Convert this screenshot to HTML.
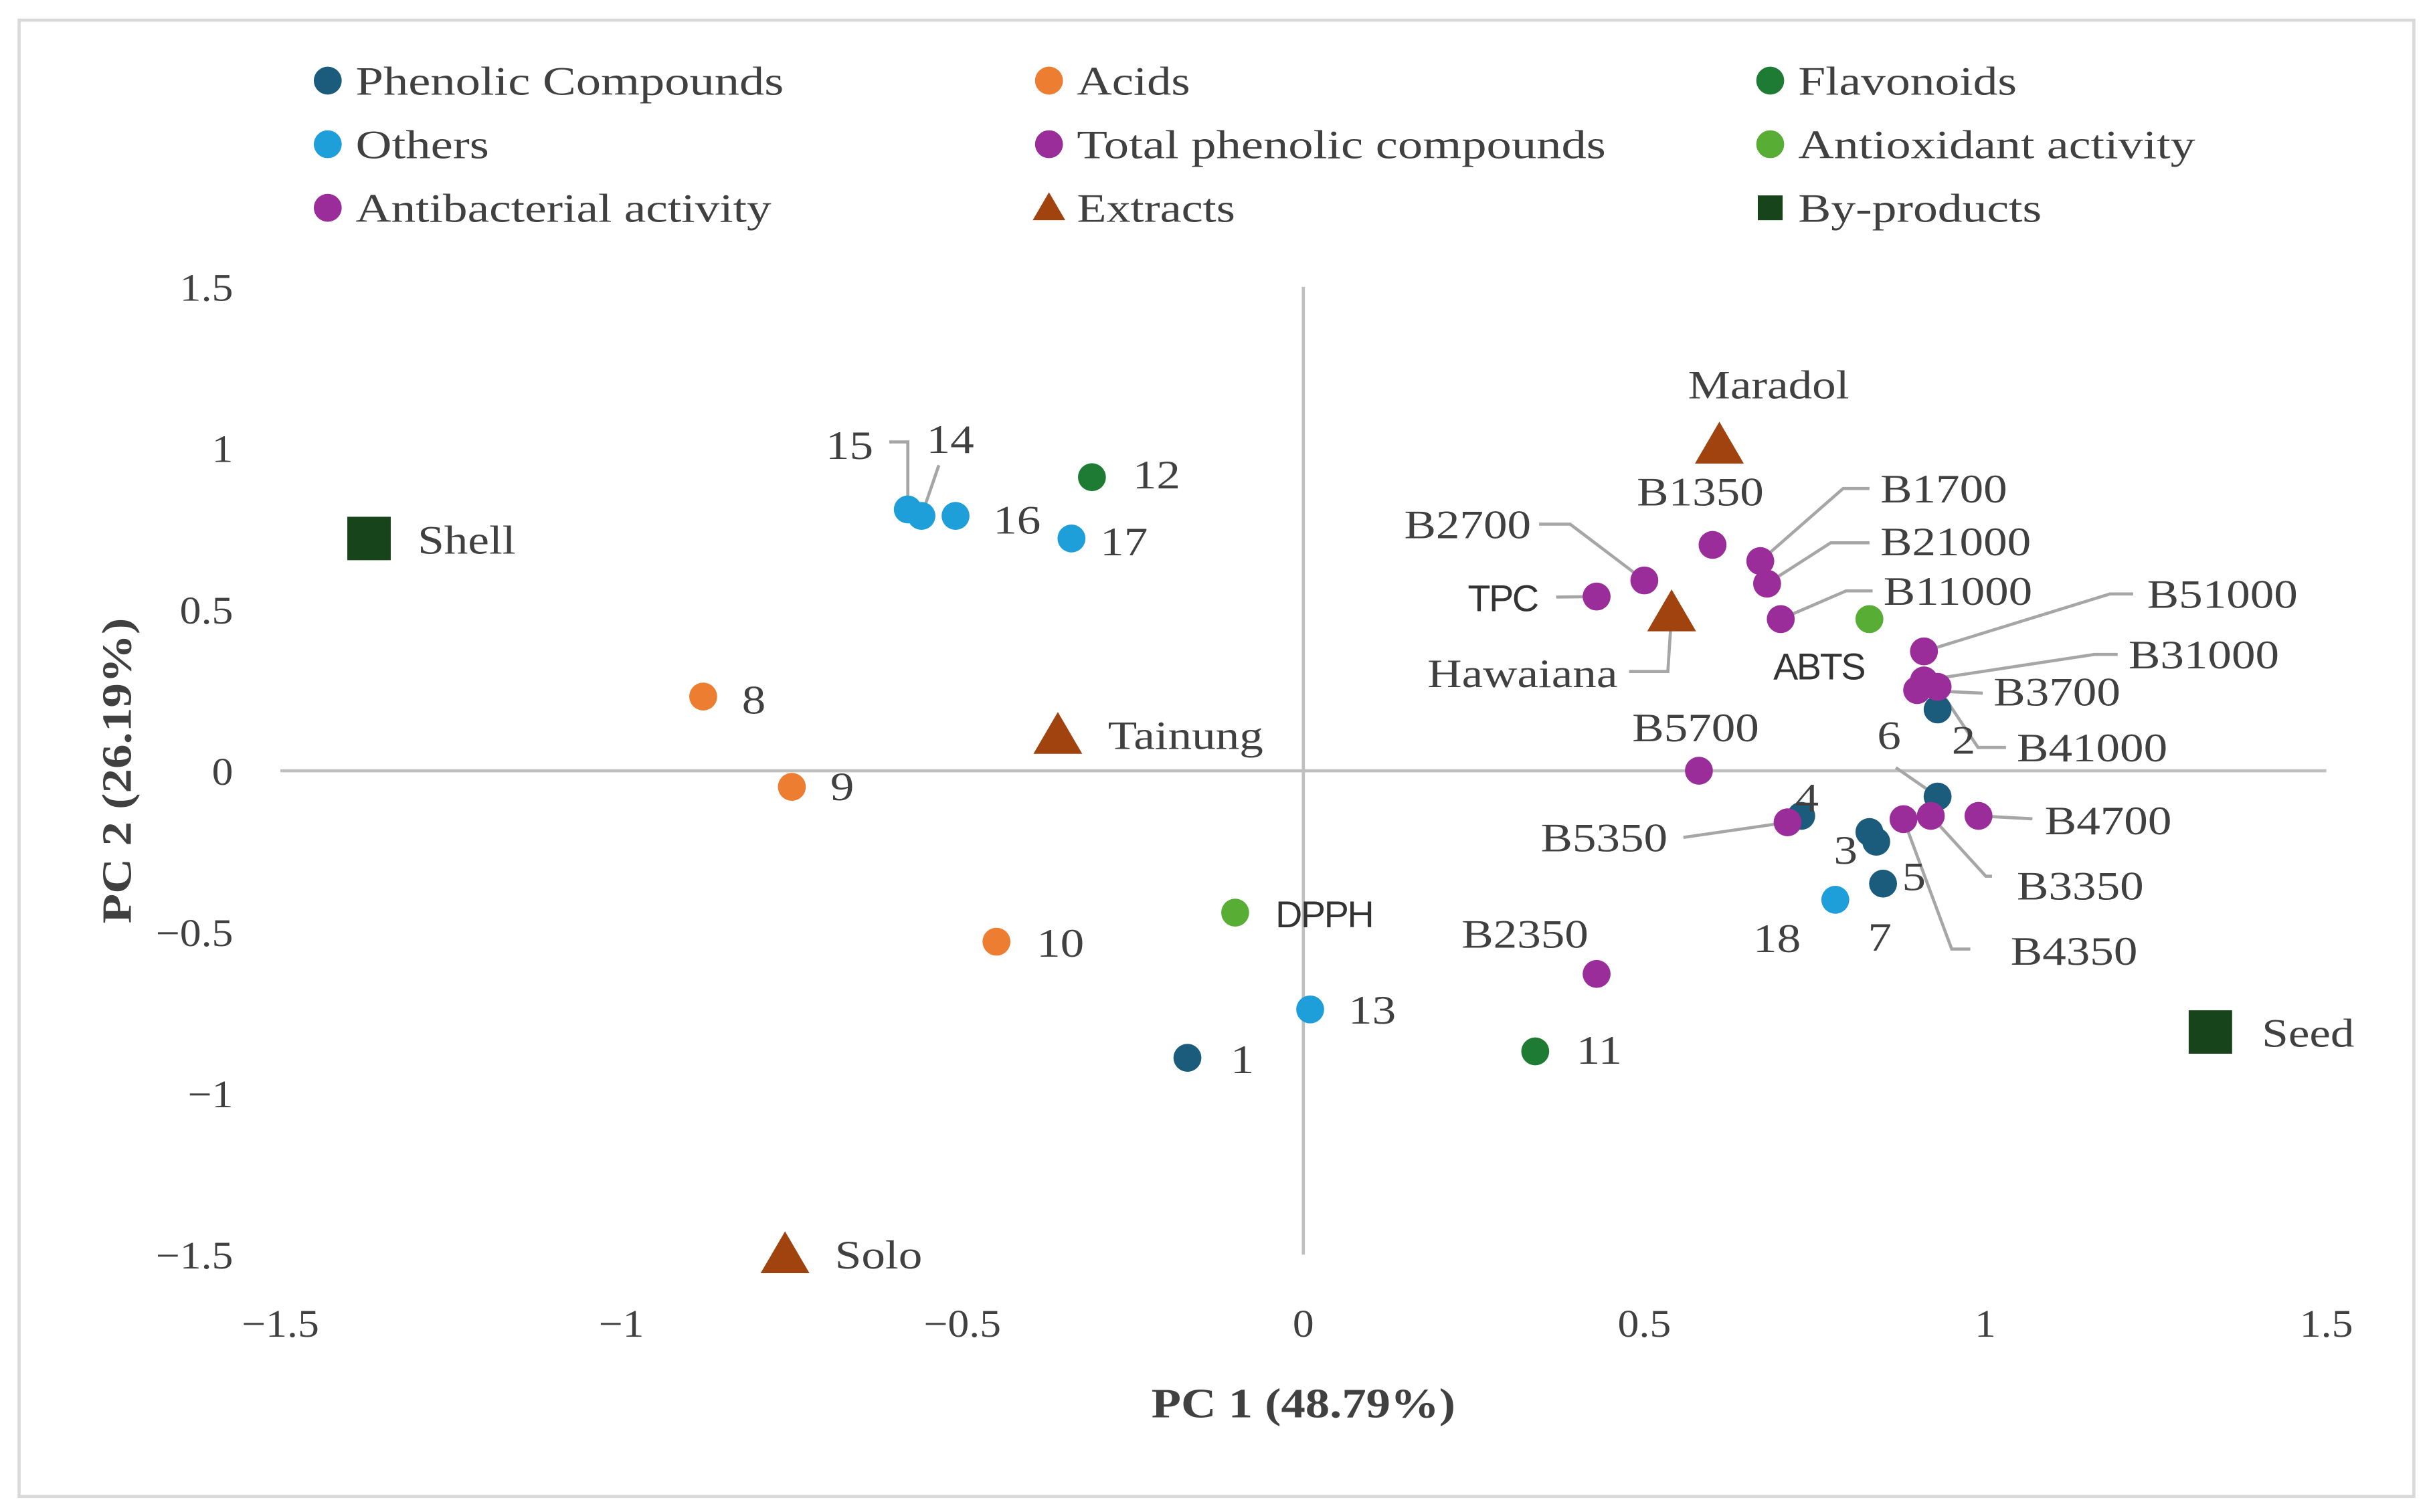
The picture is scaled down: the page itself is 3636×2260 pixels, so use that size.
<!DOCTYPE html>
<html><head><meta charset="utf-8"><style>
html,body{margin:0;padding:0;background:#fff;}
svg{display:block;}
.serif{font-family:"Liberation Serif",serif;fill:#404040;}
.sans{font-family:"Liberation Sans",sans-serif;fill:#333;}
</style></head><body>
<svg id="chart" width="3636" height="2260" viewBox="0 0 1568 975" xmlns="http://www.w3.org/2000/svg">
<rect x="12" y="13" width="1544" height="952" fill="#fff" stroke="#d9d9d9" stroke-width="2"/>
<g id="legend"></g>
<g id="axes"></g>
<g id="leaders"></g>
<g id="marks"></g>
<g id="labels"></g>
<text class="serif widen" x="840" y="914" text-anchor="middle" font-size="27" font-weight="bold" fill="#595959" textLength="196" lengthAdjust="spacingAndGlyphs">PC 1 (48.79%)</text>
<text class="serif" transform="translate(84,497) rotate(-90)" text-anchor="middle" font-size="27" font-weight="bold" fill="#595959" textLength="197" lengthAdjust="spacingAndGlyphs">PC 2 (26.19%)</text>
</svg>
<script>
const xTicks=[-1.5,-1,-0.5,0,0.5,1,1.5];
const yTicks=[-1.5,-1,-0.5,0,0.5,1,1.5];
const xTickLabels=["−1.5","−1","−0.5","0","0.5","1","1.5"];
const yTickLabels=["−1.5","−1","−0.5","0","0.5","1","1.5"];
const names=["1","2","3","4","5","6","7","8","9","10","11","12","13","14","15","16","17","18",
"Maradol","Hawaiana","Tainung","Solo","Shell","Seed","TPC","ABTS","DPPH",
"B1350","B2700","B1700","B21000","B11000","B51000","B31000","B3700","B41000","B5700","B5350","B4700","B3350","B4350","B2350"];
const groups=["ph","ph","ph","ph","ph","ph","ph","ac","ac","ac","fl","fl","ot","ot","ot","ot","ot","ot",
"ex","ex","ex","ex","bp","bp","tp","ao","ao",
"ab","ab","ab","ab","ab","ab","ab","ab","ab","ab","ab","ab","ab","ab","ab"];
const pc1=[-0.17,0.93,0.83,0.73,0.85,0.93,0.84,-0.88,-0.75,-0.45,0.34,-0.31,0.01,-0.56,-0.58,-0.51,-0.34,0.78,
0.61,0.54,-0.36,-0.76,-1.37,1.33,0.43,0.83,-0.10,
0.60,0.50,0.67,0.68,0.70,0.91,0.91,0.90,0.93,0.58,0.71,0.99,0.92,0.88,0.43];
const pc2=[-0.89,0.19,-0.19,-0.14,-0.35,-0.08,-0.22,0.23,-0.05,-0.53,-0.87,0.91,-0.74,0.79,0.81,0.79,0.72,-0.40,
1.01,0.49,0.11,-1.50,0.72,-0.81,0.54,0.47,-0.44,
0.70,0.59,0.65,0.58,0.47,0.37,0.28,0.25,0.26,0.00,-0.16,-0.14,-0.14,-0.15,-0.63];
const legendNames=["Phenolic Compounds","Acids","Flavonoids","Others","Total phenolic compounds","Antioxidant activity","Antibacterial activity","Extracts","By-products"];
const legendGroups=["ph","ac","fl","ot","tp","ao","ab","ex","bp"];
const colors={ph:"#1b5c7c",ac:"#ed7d31",fl:"#1e7b34",ot:"#1f9fd9",tp:"#9a2d9a",ao:"#58ad34",ab:"#9a2d9a",ex:"#a0430f",bp:"#17441a"};
const X=v=>840+v*439.7, Y=v=>497-v*208;
const NS="http://www.w3.org/2000/svg";
function mk(tag,parent,attrs){const e=document.createElementNS(NS,tag);for(const k in attrs)e.setAttribute(k,attrs[k]);parent.appendChild(e);return e;}
function widen(t,f){const len=t.getComputedTextLength();if(len>0){t.setAttribute('textLength',(len*f).toFixed(1));t.setAttribute('lengthAdjust','spacingAndGlyphs');}}
const axes=document.getElementById('axes');
let l=mk('line',axes,{x1:X(-1.5),x2:X(1.5),y1:Y(0),y2:Y(0),stroke:"#bfbfbf","stroke-width":2});


l=mk('line',axes,{x1:X(0),x2:X(0),y1:Y(1.5),y2:Y(-1.5),stroke:"#bfbfbf","stroke-width":2});


xTicks.forEach((t,i)=>{const e=mk('text',axes,{x:X(t),y:862,"text-anchor":"middle","font-size":25,class:"serif"});e.textContent=xTickLabels[i];


widen(e,1.1);});
yTicks.forEach((t,i)=>{const e=mk('text',axes,{x:150,y:Y(t)+9,"text-anchor":"end","font-size":25,class:"serif"});e.textContent=yTickLabels[i];


widen(e,1.1);});
function marker(g,parent,cx,cy,big){
  let e;
  if(g==="ex"){const s=big?15:10;e=mk('polygon',parent,{points:`${cx},${cy-s} ${cx+s*1.05},${cy+s*0.8} ${cx-s*1.05},${cy+s*0.8}`,fill:colors[g]});}
  else if(g==="bp"){const s=big?14:8;e=mk('rect',parent,{x:cx-s,y:cy-s,width:2*s,height:2*s,fill:colors[g]});}
  else {e=mk('circle',parent,{cx:cx,cy:cy,r:9,fill:colors[g]});}
  return e;
}
const legendWidths=[276,73,141,86,341,256,268,102,157];
const leg=document.getElementById('legend');
legendNames.forEach((n,i)=>{const col=i%3,row=Math.floor(i/3);const x=211+col*465,y=52+row*41;
  const m=marker(legendGroups[i],leg,x,y,false);
  
  
  const t=mk('text',leg,{x:x+18,y:y+9,"font-size":26,class:"serif",textLength:legendWidths[i],lengthAdjust:"spacingAndGlyphs"});t.textContent=n;
  
  
});
const labelPos={"1":[793,692],"2":[1258,486],"3":[1182,557],"4":[1157,523],"5":[1226,574],"6":[1210,483],"7":[1204,613],"8":[478,460],"9":[535,516],"10":[668,617],"11":[1016,686],"12":[730,315],"13":[869,660],"14":[597,292],"15":[532,296],"16":[640,344],"17":[709,358],"18":[1130,614],
"Maradol":[1088,257],"Hawaiana":[920,443],"Tainung":[714,483],"Solo":[538,818],"Shell":[269,357],"Seed":[1458,675],"TPC":[946,394],"ABTS":[1143,438],"DPPH":[822,598],
"B1350":[1055,326],"B2700":[905,347],"B1700":[1212,324],"B21000":[1212,358],"B11000":[1214,390],"B51000":[1384,392],"B31000":[1372,431],"B3700":[1285,455],"B41000":[1300,491],"B5700":[1052,478],"B5350":[993,549],"B4700":[1318,538],"B3350":[1300,580],"B4350":[1296,622],"B2350":[942,611]};
const leaderPts={"Hawaiana":[[1050,433],[1075,433]],"TPC":[[1003,385]],"B2700":[[992,338],[1012,338]],"B1700":[[1205,315],[1188,315]],"B21000":[[1205,350],[1180,350]],"B11000":[[1207,381],[1190,381]],"B51000":[[1375,383],[1360,383]],"B31000":[[1365,422],[1350,422]],"B3700":[[1278,447]],"B41000":[[1293,482],[1275,482]],"B5350":[[1085,540]],"B4700":[[1310,528]],"B3350":[[1284,565],[1280,565]],"B4350":[[1270,612],[1258,612]],"15":[[573,285],[585,285]],"14":[[605,300]],"6":[[1222,495]]};
const ld=document.getElementById('leaders'),mg=document.getElementById('marks'),lg=document.getElementById('labels');
names.forEach((n,i)=>{
  const cx=X(pc1[i]),cy=Y(pc2[i]),g=groups[i];
  if(leaderPts[n]){const pts=leaderPts[n].concat([[cx,cy]]).map(p=>p.join(',')).join(' ');
    const p=mk('polyline',ld,{points:pts,fill:"none",stroke:"#a6a6a6","stroke-width":2});
    
    }
  const m=marker(g,mg,cx,cy,true);
  
  
  const lp=labelPos[n];
  const sans=(n==="TPC"||n==="ABTS"||n==="DPPH");
  const t=mk('text',lg,{x:lp[0],y:lp[1],"font-size":sans?24:26,class:sans?"sans":"serif","letter-spacing":sans?-1:0});
  t.textContent=n;
  
  
  if(!sans) widen(t,1.18);
});
</script>
</body></html>
